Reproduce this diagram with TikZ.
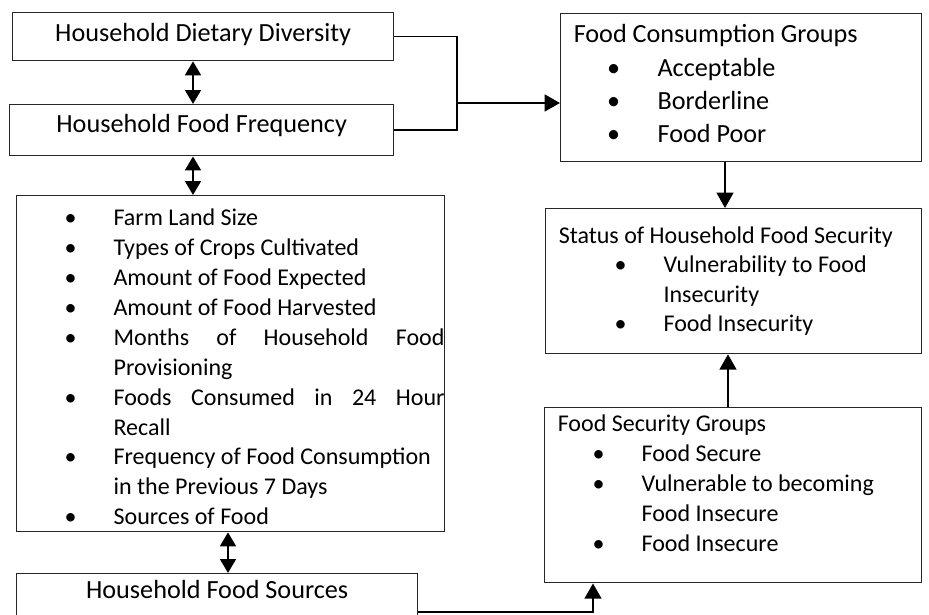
\documentclass[tikz,border=0pt]{standalone}
\usepackage{fontspec}
\setmainfont{Carlito}
\usetikzlibrary{arrows.meta}
\setlength{\parindent}{0pt}

\newlength{\bulpos}
\newlength{\txtpos}
\newcommand{\bitem}[1]{\par\hangindent=\txtpos\hangafter=1
  \noindent\hspace*{\bulpos}\makebox[\dimexpr\txtpos-\bulpos\relax][l]{\textbullet}#1}
\newcommand{\padbottom}[1]{\par\kern #1\nointerlineskip\hbox{}}

\begin{document}
\begin{tikzpicture}[x=0.458pt, y=-0.458pt]
    \tikzstyle{box}=[draw=black!85, line width=0.6pt, anchor=north west, inner xsep=6pt]
    \tikzstyle{big}=[font=\fontsize{12pt}{15.3pt}\selectfont]
    \tikzstyle{small}=[font=\fontsize{11pt}{13.7pt}\selectfont]
    \tikzstyle{link}=[line width=0.7pt]
    \tikzstyle{arr}=[line width=1.2pt, -{Triangle[length=7pt,width=7.6pt]}]
    \tikzstyle{dbl}=[line width=1.2pt, {Triangle[length=6.4pt,width=7.2pt]}-{Triangle[length=6.4pt,width=7.2pt]}]

    % Picture size
    \useasboundingbox (0,0) rectangle (929,615);
    \clip (0,0) rectangle (929,615);

    % Left column
    \node[box, big, minimum width=174.5pt, minimum height=22pt, text depth=4pt] (hdd) at (12,12) {Household Dietary Diversity};
    \node[box, big, minimum width=175.9pt, minimum height=23.4pt, text depth=6.5pt] (hff) at (9,104) {Household Food Frequency};
    \node[box, small, inner xsep=0pt, inner ysep=0pt, text width=196pt, minimum height=153.9pt, align=justify] (vars) at (16,195) {%
        \setlength{\bulpos}{22pt}\setlength{\txtpos}{44.4pt}%
        \bitem{Farm Land Size}
        \bitem{Types of Crops Cultivated}
        \bitem{Amount of Food Expected}
        \bitem{Amount of Food Harvested}
        \bitem{Months of Household Food\break Provisioning}
        \bitem{Foods Consumed in 24 Hour\break Recall}
        \bitem{Frequency of Food Consumption\newline in the Previous 7 Days}
        \bitem{Sources of Food}\padbottom{3pt}};
    \node[box, big, minimum width=183.7pt, inner ysep=3pt, text height=8.5pt, text depth=40pt] (src) at (16,573) {Household Food Sources};

    % Right column
    \node[box, big, text width=153.3pt, minimum height=67.8pt, align=flush left] (fcg) at (560,13) {%
        \setlength{\bulpos}{15.3pt}\setlength{\txtpos}{38.4pt}%
        Food Consumption Groups
        \bitem{Acceptable}
        \bitem{Borderline}
        \bitem{Food Poor}\padbottom{3.6pt}};
    \node[box, font=\fontsize{11pt}{13.4pt}\selectfont, text width=160.2pt, minimum height=66.4pt, align=flush left] (sfs) at (545,208) {%
        \setlength{\bulpos}{25.6pt}\setlength{\txtpos}{48pt}%
        Status of Household Food Security
        \bitem{Vulnerability to Food\newline Insecurity}
        \bitem{Food Insecurity}};
    \node[box, small, text width=160.7pt, minimum height=80.2pt, align=flush left] (fsg) at (544,407) {%
        \setlength{\bulpos}{16pt}\setlength{\txtpos}{38.4pt}%
        Food Security Groups
        \bitem{Food Secure}
        \bitem{Vulnerable to becoming\newline Food Insecure}
        \bitem{Food Insecure}\padbottom{11pt}};

    % Double arrows down the left column
    \foreach \a/\b/\x in {hdd/hff/193, hff/vars/193, vars/src/228}
        \draw[dbl] (\a.south -| \x,0) -- (\b.north -| \x,0);

    % Bracket and arrows
    \coordinate (join) at (457,103);
    \draw[link] (hdd.east) -| (join) |- (hff.east);
    \draw[arr] (join) -- (join -| fcg.west);
    \draw[arr] (fcg.south -| 725,0) -- (sfs.north -| 725,0);
    \draw[arr] (fsg.north -| 728,0) -- (sfs.south -| 728,0);
    \draw[arr] (src.east |- 0,612) -| (fsg.south -| 593,0);
\end{tikzpicture}
\end{document}
